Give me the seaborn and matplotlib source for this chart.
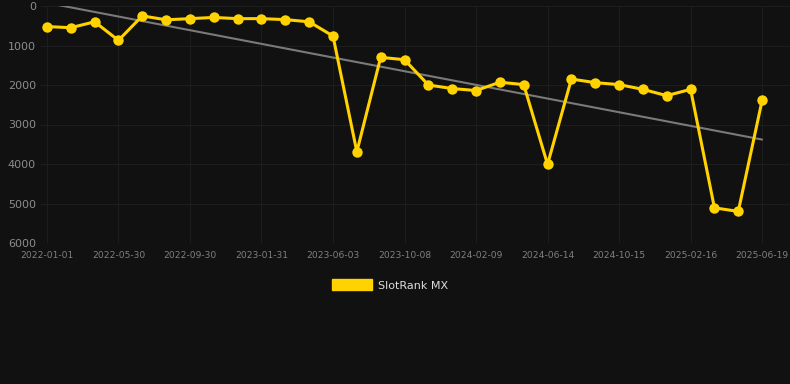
import numpy as np
import pandas as pd
import matplotlib
matplotlib.use("Agg")
import matplotlib.pyplot as plt
from matplotlib.patches import Patch
import seaborn as sns

# data
tick_labels = ["2022-01-01", "2022-05-30", "2022-09-30", "2023-01-31", "2023-06-03",
               "2023-10-08", "2024-02-09", "2024-06-14", "2024-10-15", "2025-02-16",
               "2025-06-19"]
rank = [520, 550, 400, 870, 250, 350, 320, 290, 320, 320,
        345, 400, 760, 3690, 1300, 1360, 2000, 2090, 2140, 1930,
        1990, 4010, 1850, 1940, 1990, 2110, 2270, 2110, 5110, 5200,
        2390]
series_name = "SlotRank MX"

BG = "#111111"
GOLD = "#FFD200"
GRID = "#1d1d1d"

df = pd.DataFrame({"idx": np.arange(len(rank)), "rank": rank})
slope, icpt = np.polyfit(df["idx"], df["rank"], 1)
df["trend"] = slope * df["idx"] + icpt

sns.set_theme(style="dark")
plt.rcParams.update({
    "figure.facecolor": BG,
    "axes.facecolor": BG,
    "savefig.facecolor": BG,
})
plt.rcParams["font.family"] = ["DejaVu Sans"]

fig = plt.figure(figsize=(7.9, 3.84), dpi=100)
ax = fig.add_axes([40 / 790, 1 - 243 / 384, 750 / 790, 237 / 384])

sns.lineplot(data=df, x="idx", y="trend", ax=ax, color="#7a7a7a", linewidth=1.5, zorder=2)
sns.lineplot(data=df, x="idx", y="rank", ax=ax, color=GOLD, linewidth=2.2,
             marker="o", markersize=7.5, markeredgewidth=0, zorder=3)

ax.set_ylim(6000, 0)
ax.set_xlim(-0.29, 31.17)
ax.set_yticks([0, 1000, 2000, 3000, 4000, 5000, 6000])
ax.set_xticks(range(0, len(rank), 3))
ax.set_xticklabels(tick_labels)
ax.set_xlabel("")
ax.set_ylabel("")

ax.grid(True, color=GRID, linewidth=0.8)
for s in ax.spines.values():
    s.set_visible(False)
ax.tick_params(axis="y", colors="#8c8c8c", labelsize=8, length=0, pad=3)
ax.tick_params(axis="x", colors=GRID, labelcolor="#808080", labelsize=6.6,
               length=5, width=0.8, pad=1)

handle = Patch(facecolor=GOLD, edgecolor=GOLD, label=series_name)
fig.legend(handles=[handle], loc="center", bbox_to_anchor=(390 / 790, 1 - 285 / 384),
           frameon=False, fontsize=8, labelcolor="#dddddd",
           handlelength=3.6, handleheight=1.1, handletextpad=0.6)

fig.savefig("out.png", dpi=100)
